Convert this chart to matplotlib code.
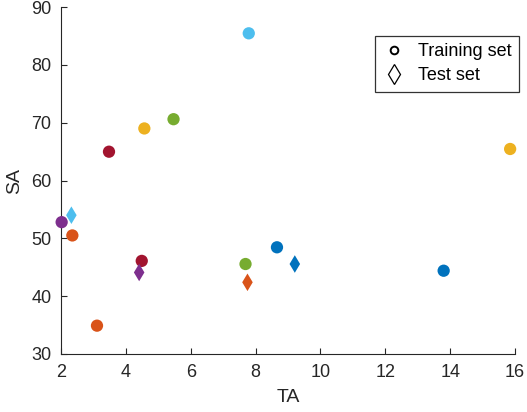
import matplotlib
matplotlib.use("Agg")
import matplotlib.pyplot as plt
from matplotlib.lines import Line2D

plt.rcParams['font.family'] = ['Liberation Sans', 'DejaVu Sans']

# MATLAB default colour order
palette = ['#0072BD', '#D95319', '#EDB120', '#7E2F8E', '#77AC30', '#4DBEEE', '#A2142F']

# training set (circles)
train_ta = [13.8, 8.66, 2.35, 3.11, 15.85, 4.57, 2.02, 5.47, 7.69, 7.79, 3.48, 4.49]
train_sa = [44.4, 48.45, 50.5, 34.9, 65.45, 69.0, 52.8, 70.6, 45.56, 85.45, 64.98, 46.1]
train_col = [0, 0, 1, 1, 2, 2, 3, 4, 4, 5, 6, 6]

# test set (diamonds)
test_ta = [9.21, 7.75, 4.41, 2.32]
test_sa = [45.56, 42.4, 44.1, 54.0]
test_col = [0, 1, 3, 5]

fig = plt.figure(figsize=(5.27, 4.12), dpi=100)
ax = fig.add_axes([61/527, 58/412, 454/527, 347/412])

ax.scatter(train_ta, train_sa, s=78, c=[palette[i] for i in train_col],
           marker='o', linewidths=0, zorder=3, clip_on=False)
ax.scatter(test_ta, test_sa, s=80, c=[palette[i] for i in test_col],
           marker='d', linewidths=0, zorder=3, clip_on=False)

ax.set_xlim(2, 16)
ax.set_ylim(30, 90)
ax.set_xticks(range(2, 17, 2))
ax.set_yticks(range(30, 91, 10))
ax.set_xlabel('TA', fontsize=14, color='#262626', labelpad=6)
ax.set_ylabel('SA', fontsize=14, color='#262626', labelpad=6)

for s in ['top', 'right']:
    ax.spines[s].set_visible(False)
for s in ['left', 'bottom']:
    ax.spines[s].set_color('#262626')
    ax.spines[s].set_linewidth(0.8)
ax.tick_params(direction='in', length=4, width=0.8, colors='#262626',
               labelsize=13, pad=7)

handles = [
    Line2D([], [], linestyle='none', marker='o', markersize=5.5,
           markerfacecolor='none', markeredgecolor='black', markeredgewidth=1.4),
    Line2D([], [], linestyle='none', marker='d', markersize=10,
           markerfacecolor='none', markeredgecolor='black', markeredgewidth=0.9),
]
leg = fig.legend(handles, ['Training set', 'Test set'], loc='upper right',
                 bbox_to_anchor=(519/527, 1 - 36/412), fontsize=13,
                 frameon=True, fancybox=False, edgecolor='black',
                 handlelength=1.3, handletextpad=0.7, borderpad=0.4,
                 labelspacing=0.4, borderaxespad=0)
leg.get_frame().set_linewidth(0.9)

fig.savefig('out.png', dpi=100)
